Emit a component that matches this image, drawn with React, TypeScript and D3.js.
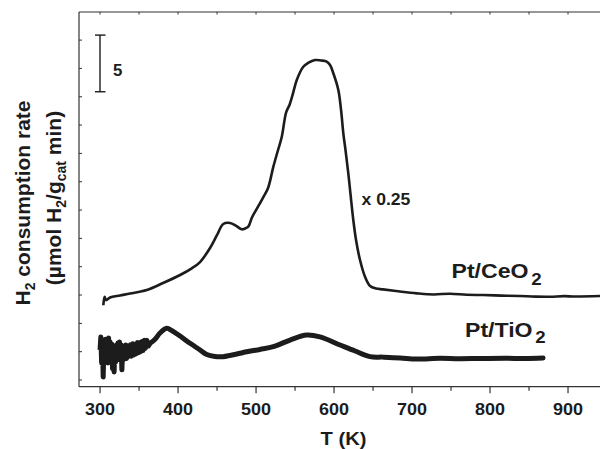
import React, { useEffect, useRef } from 'react';
import * as d3 from 'd3';

// Pt/CeO2 profile (already scaled x 0.25), [T (K), rate]
const ceriaCurve: [number, number][] = [
  [304.2, 6.6], [305.8, 7.35], [307.7, 7.05], [312.8, 7.28], [325.6, 7.46],
  [338.5, 7.63], [359.9, 7.94], [380.8, 8.56], [402.6, 9.27], [417.6, 9.86],
  [428.2, 10.41], [441, 11.65], [450, 12.8], [458, 13.77], [466.7, 13.86],
  [474.4, 13.6], [481.7, 13.3], [485.9, 13.37], [490, 13.53], [494.5, 14.3],
  [500, 15.0], [509.4, 16.15], [515.4, 16.95], [522.2, 18.83], [528.2, 20.3],
  [533, 21.47], [538.5, 23.6], [543, 24.3], [547, 25.2], [552.2, 26.48], [560.6, 27.65],
  [566.7, 27.98], [575.6, 28.24], [583.3, 28.2], [590.6, 28.1], [594.9, 27.8],
  [599.1, 27.07], [605.5, 25.6], [609, 23.83], [611.9, 21.77], [614.7, 20.3],
  [618.3, 18.24], [624.7, 14.12], [628.2, 12.36], [633.3, 10.59], [639.7, 9.12],
  [646.2, 8.3], [653.8, 8.08], [662.8, 8.0], [684.6, 7.81], [706, 7.65],
  [728, 7.55], [748.7, 7.62], [770, 7.52], [791, 7.5], [815, 7.45],
  [838.5, 7.41], [858, 7.36], [877, 7.35], [895, 7.4], [909, 7.37], [941, 7.41],
];

// Pt/TiO2 noisy start, [T (K), rate]
const titaniaNoisy: [number, number][] = [
  [300, 2.65], [301, 3.8], [302, 1.5], [303, 3.53], [304, 0.26], [305, 3.09],
  [306, 1.7], [307, 3.6], [308, 1.9], [309, 3.44], [310, 1.5], [311, 3.7],
  [312, 1.8], [313, 3.35], [314, 1.6], [315, 3.18], [316, 1.0], [317, 2.9],
  [318, 0.71], [319, 2.8], [320, 1.6], [321, 3.09], [322, 1.9], [323, 3.27],
  [324, 1.8], [325, 3.35], [326, 2.0], [327, 3.09], [328, 0.9], [329, 2.91],
  [330, 1.8], [331, 3.0], [332, 1.9], [333, 3.1], [334, 1.9], [336, 3.0],
  [337, 2.1], [339, 3.1], [340, 2.1], [342, 3.2], [343, 2.2], [345, 3.15],
  [346, 2.3], [348, 3.3], [349, 2.4], [351, 3.3], [352, 2.5], [354, 3.4],
  [355, 2.6], [357, 3.5], [358, 2.8], [360, 3.5], [362, 3.0], [364.1, 3.25],
];

// Pt/TiO2 smooth part, [T (K), rate]
const titaniaSmooth: [number, number][] = [
  [364.1, 3.25], [370.5, 3.6], [376.9, 4.15], [385.5, 4.56], [392.3, 4.35],
  [402.6, 3.88], [415.4, 3.24], [428.2, 2.65], [436.8, 2.25], [447.4, 2.07],
  [457.7, 2.06], [479.5, 2.36], [488, 2.5], [505, 2.7], [522.2, 2.94],
  [543.6, 3.53], [565, 3.97], [582, 3.8], [607.7, 3.09], [627, 2.56],
  [646.2, 2.06], [662.8, 2.02], [685, 1.95], [706, 1.85], [735.9, 1.92],
  [760, 1.88], [787, 1.9], [820, 1.92], [845, 1.9], [868, 1.94],
];

const xMajorTicks = [300, 400, 500, 600, 700, 800, 900];
const xMinorTicks = [350, 450, 550, 650, 750, 850];
const yTicks = [0, 2.5, 5, 7.5, 10, 12.5, 15, 17.5, 20, 22.5, 25, 27.5, 30];
const scaleBar = [25, 30];

const App = () => {
  const ref = useRef<SVGSVGElement>(null);

  useEffect(() => {
    const svg = d3.select(ref.current);
    svg.selectAll('*').remove();

    const x = d3.scaleLinear().domain([273, 941]).range([79, 600]);
    const y = d3.scaleLinear().domain([-0.59, 32.48]).range([386.7, 12]);
    const ink = '#1c1c1c';
    const axisColor = '#333';
    const font = 'Arial, "Liberation Sans", sans-serif';

    // text drawn slightly wider than Liberation Sans, like the original
    const label = (tx: number, ty: number, size: number, sx: number, anchor = 'start') =>
      svg.append('text').attr('transform', `translate(${tx},${ty}) scale(${sx},1)`)
        .attr('text-anchor', anchor).attr('font-family', font).attr('font-weight', 'bold')
        .attr('font-size', size).attr('fill', ink);

    const yb = y(-0.59);
    // frame
    svg.append('line').attr('x1', 79).attr('x2', 600).attr('y1', yb).attr('y2', yb)
      .attr('stroke', axisColor).attr('stroke-width', 1.2);
    svg.append('line').attr('x1', 79).attr('x2', 600).attr('y1', 12).attr('y2', 12)
      .attr('stroke', axisColor).attr('stroke-width', 1.2);
    svg.append('line').attr('x1', 79).attr('x2', 79).attr('y1', 12).attr('y2', yb)
      .attr('stroke', axisColor).attr('stroke-width', 1.2);

    svg.selectAll('.xmaj').data(xMajorTicks).enter().append('line')
      .attr('x1', d => x(d)).attr('x2', d => x(d)).attr('y1', yb).attr('y2', yb + 6.5)
      .attr('stroke', axisColor).attr('stroke-width', 1.2);
    svg.selectAll('.xmin').data(xMinorTicks).enter().append('line')
      .attr('x1', d => x(d)).attr('x2', d => x(d)).attr('y1', yb).attr('y2', yb + 4)
      .attr('stroke', axisColor).attr('stroke-width', 1.2);
    svg.selectAll('.xtop').data([...xMajorTicks, ...xMinorTicks]).enter().append('line')
      .attr('x1', d => x(d)).attr('x2', d => x(d)).attr('y1', 12).attr('y2', 14.5)
      .attr('stroke', axisColor).attr('stroke-width', 1);
    svg.selectAll('.ytick').data(yTicks).enter().append('line')
      .attr('x1', 79).attr('x2', 82).attr('y1', d => y(d)).attr('y2', d => y(d))
      .attr('stroke', axisColor).attr('stroke-width', 1);

    xMajorTicks.forEach(t => label(x(t), 415, 17, 1.06, 'middle').text(t));
    label(343.5, 445, 18, 1.12, 'middle').text('T (K)');

    // y label, two lines
    const yl1 = svg.append('text').attr('transform', 'translate(30,203) rotate(-90)')
      .attr('text-anchor', 'middle').attr('font-family', font).attr('font-weight', 'bold')
      .attr('font-size', 21).attr('fill', ink);
    yl1.append('tspan').text('H');
    yl1.append('tspan').attr('font-size', 14).attr('dy', 5).text('2');
    yl1.append('tspan').attr('dy', -5).text(' consumption rate');

    const yl2 = svg.append('text').attr('transform', 'translate(61,198) rotate(-90)')
      .attr('text-anchor', 'middle').attr('font-family', font).attr('font-weight', 'bold')
      .attr('font-size', 21).attr('fill', ink);
    yl2.append('tspan').text('(µmol H');
    yl2.append('tspan').attr('font-size', 14).attr('dy', 5).text('2');
    yl2.append('tspan').attr('dy', -5).text('/g');
    yl2.append('tspan').attr('font-size', 14).attr('dy', 5).text('cat');
    yl2.append('tspan').attr('dy', -5).text(' min)');

    // scale bar
    const sb = svg.append('g').attr('stroke', ink).attr('stroke-width', 1.4);
    sb.append('line').attr('x1', 100).attr('x2', 100).attr('y1', y(scaleBar[1]) - 5).attr('y2', y(scaleBar[0]) - 5);
    sb.append('line').attr('x1', 95).attr('x2', 105.5).attr('y1', y(scaleBar[1]) - 5).attr('y2', y(scaleBar[1]) - 5);
    sb.append('line').attr('x1', 95).attr('x2', 105.5).attr('y1', y(scaleBar[0]) - 5).attr('y2', y(scaleBar[0]) - 5);
    label(113, 76, 16, 1.05).text('5');

    // curves
    const straight = d3.line<[number, number]>().x(d => x(d[0])).y(d => y(d[1]));
    const smooth = d3.line<[number, number]>().x(d => x(d[0])).y(d => y(d[1])).curve(d3.curveCatmullRom);

    svg.append('path').datum(titaniaNoisy).attr('d', straight).attr('fill', 'none')
      .attr('stroke', ink).attr('stroke-width', 5).attr('stroke-linejoin', 'round');
    svg.append('path').datum(titaniaSmooth).attr('d', smooth).attr('fill', 'none')
      .attr('stroke', ink).attr('stroke-width', 5).attr('stroke-linecap', 'round');
    svg.append('path').datum(ceriaCurve).attr('d', smooth).attr('fill', 'none')
      .attr('stroke', ink).attr('stroke-width', 2.6).attr('stroke-linejoin', 'round');

    // annotations
    label(361.5, 205, 16, 1.1).text('x 0.25');

    const ce = label(451.5, 278, 21, 1.1);
    ce.append('tspan').text('Pt/CeO');
    ce.append('tspan').attr('dx', 2.5).attr('dy', 6.5).attr('font-size', 17).text('2');

    const ti = label(465, 336.5, 21, 1.1);
    ti.append('tspan').text('Pt/TiO');
    ti.append('tspan').attr('dx', 2.5).attr('dy', 6.5).attr('font-size', 17).text('2');
  }, []);

  return (
    <svg ref={ref} width={600} height={449}
      style={{ position: 'absolute', left: 0, top: 0, background: '#fff' }} />
  );
};

export default App;
